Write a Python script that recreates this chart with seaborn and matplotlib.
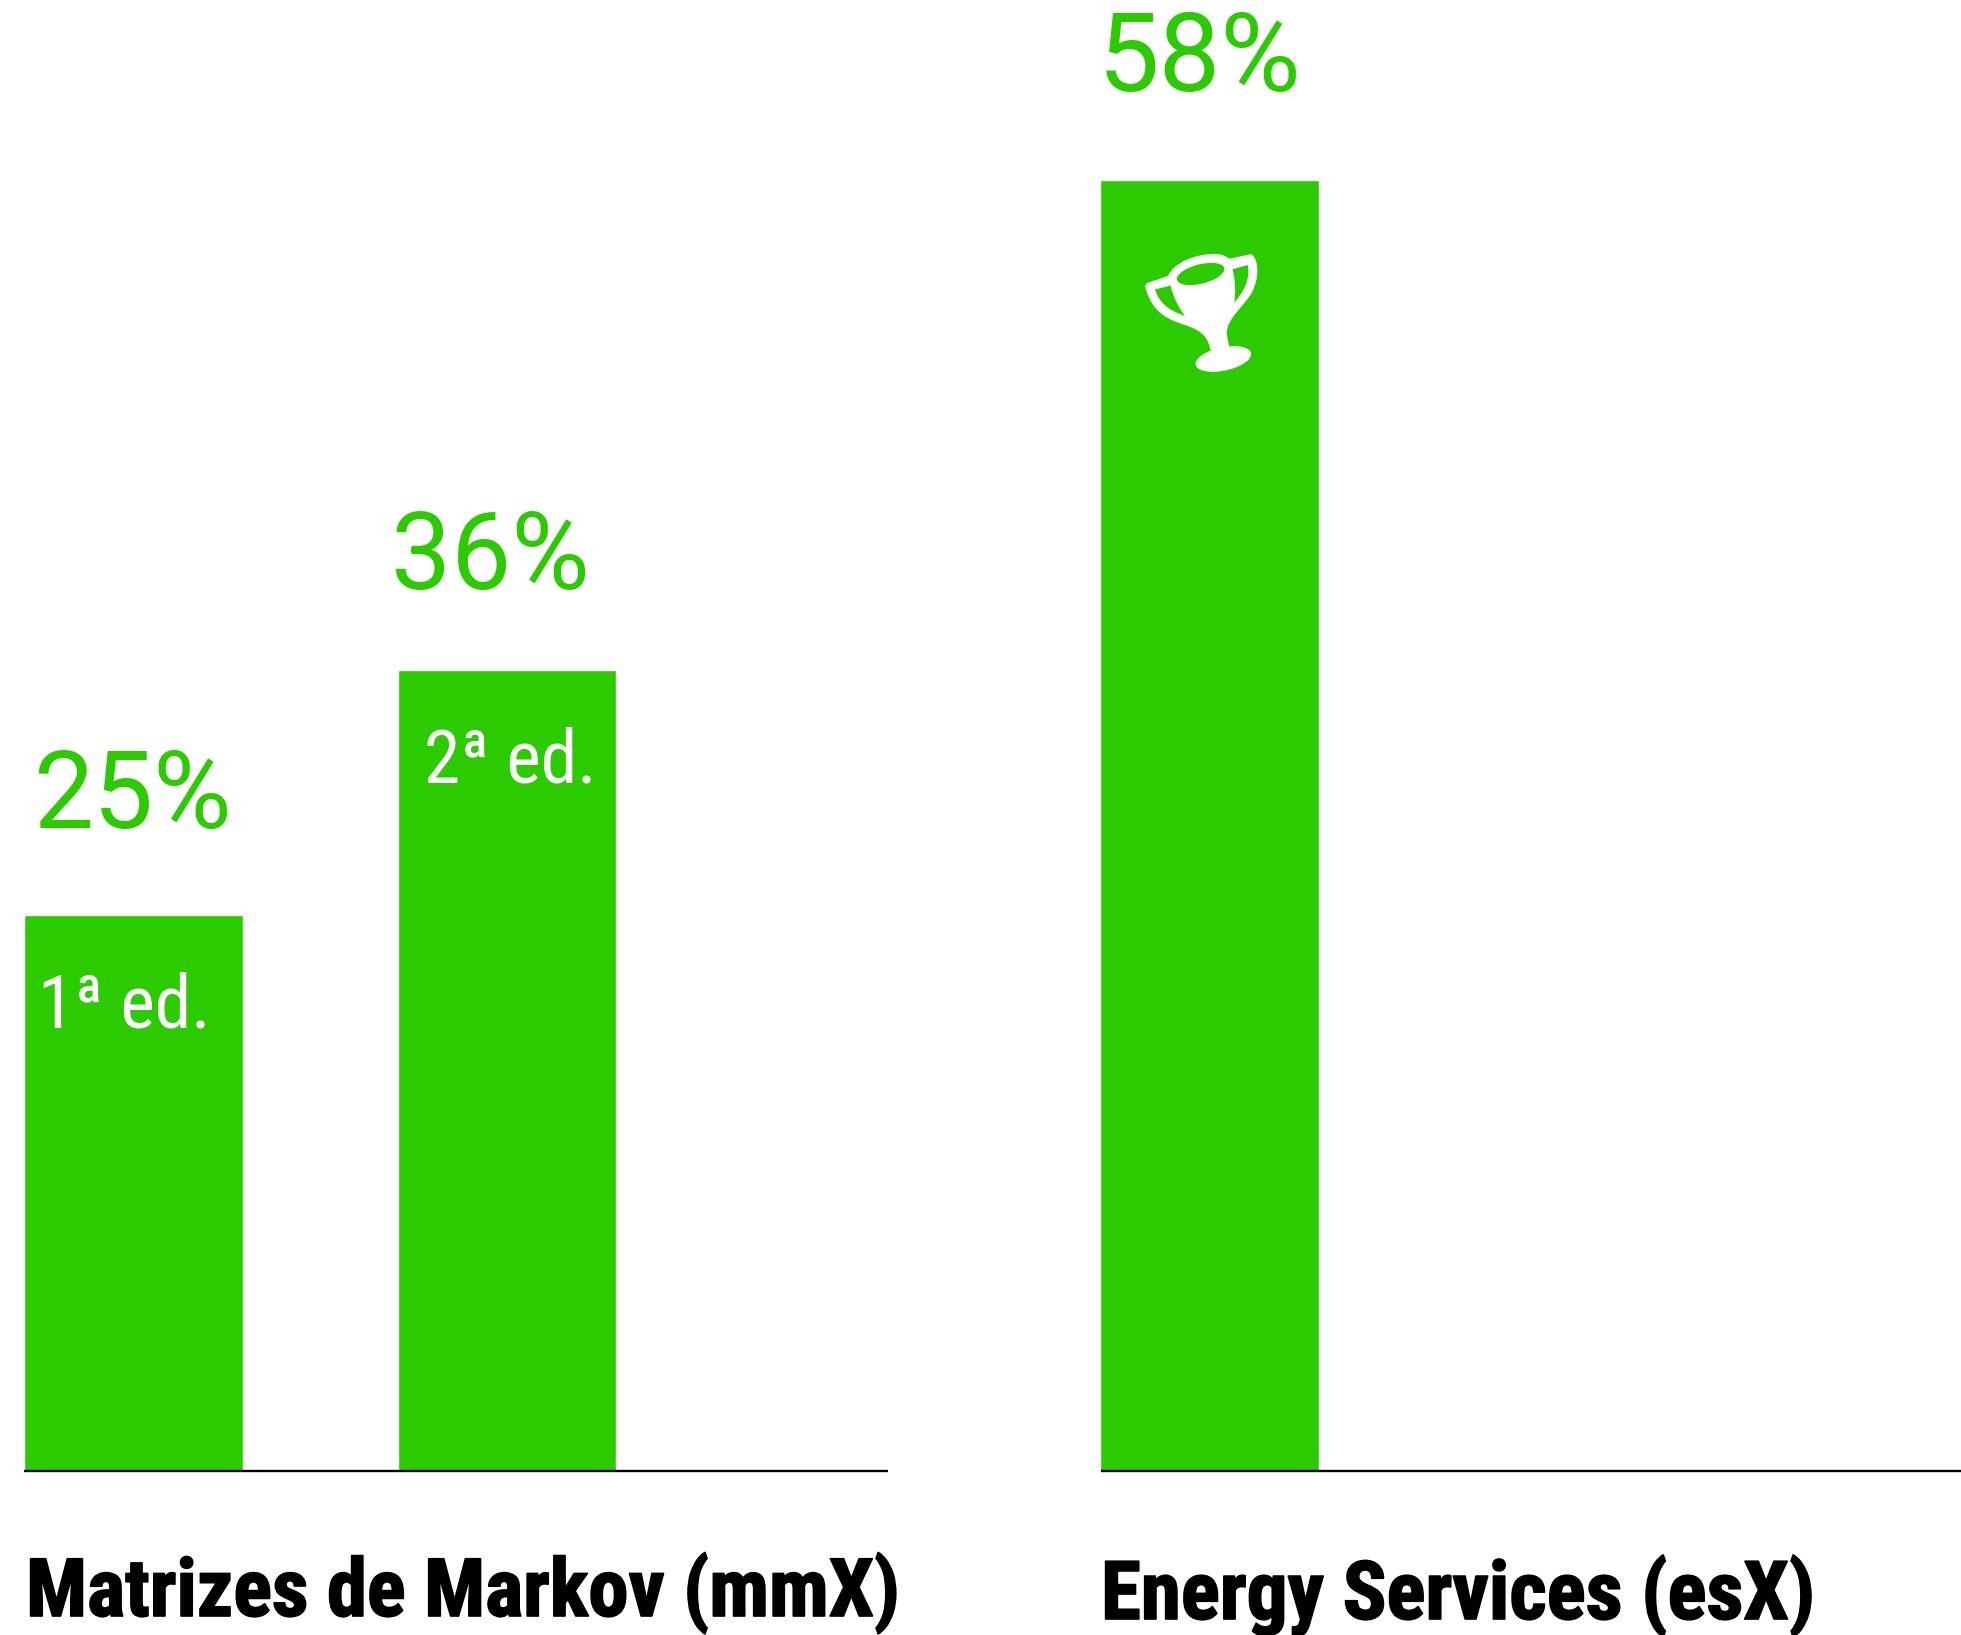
import matplotlib
matplotlib.use("Agg")
from matplotlib import pyplot as plt
from matplotlib.patches import PathPatch, Ellipse
from matplotlib.path import Path
from matplotlib import patheffects as pe
from matplotlib.transforms import Affine2D
import pandas as pd
import seaborn as sns

# values
left_eds = ["1ª ed.", "2ª ed."]
left_vals = [25, 36]
right_eds = ["3ª ed."]
right_vals = [58]
left_title = "Matrizes de Markov (mmX)"
right_title = "Energy Services (esX)"

GREEN = "#2ccb00"
W, H = 1961, 1635

sns.set_theme(style="white")
plt.rcParams["font.family"] = ["Roboto Condensed", "DejaVu Sans"]
plt.rcParams["axes.facecolor"] = "white"

fig = plt.figure(figsize=(W / 100, H / 100), dpi=100, facecolor="white")


def make_ax(x0, x1):
    base = 1471
    return fig.add_axes([x0 / W, 1 - base / H, (x1 - x0) / W, base / H])


def draw_bars(ax, eds, vals):
    df = pd.DataFrame({"ed": eds, "val": vals})
    sns.barplot(data=df, x="ed", y="val", color=GREEN, saturation=1, width=218 / 373, ax=ax)
    ax.set_ylim(0, 1471 / 22.25)
    ax.set_xlabel("")
    ax.set_ylabel("")
    ax.set_xticks([])
    ax.set_yticks([])
    sns.despine(ax=ax, left=True)
    ax.spines["bottom"].set_color("black")
    ax.spines["bottom"].set_linewidth(1.7)
    ax.spines["bottom"].set_capstyle("butt")
    ax.patch.set_alpha(0)


ax1 = make_ax(24.5, 888)
draw_bars(ax1, left_eds, left_vals)
ax1.set_xlim(-0.2922, 2.02)

ax2 = make_ax(1100.5, 1961)
draw_bars(ax2, right_eds, right_vals)
ax2.set_xlim(-0.2922, 2.013)

half = 109 / 373
# percent labels, offset from each bar's top left corner
pct_offsets = [(9, 87), (-7, 81)]
for i, v in enumerate(left_vals):
    ax1.annotate(f"{v}%", xy=(i - half, v), xytext=pct_offsets[i], textcoords="offset pixels",
                 color=GREEN, fontsize=77, family="Roboto", ha="left", va="baseline")
ax2.annotate(f"{right_vals[0]}%", xy=(-half, right_vals[0]), xytext=(-3, 90), textcoords="offset pixels",
             color=GREEN, fontsize=79, family="Roboto", ha="left", va="baseline")

# edition labels inside the bars
ed_offsets = [(14, -113), (26, -112)]
for i, v in enumerate(left_vals):
    ax1.annotate(left_eds[i], xy=(i - half, v), xytext=ed_offsets[i], textcoords="offset pixels",
                 color="white", fontsize=53, ha="left", va="baseline")

bold = [pe.withStroke(linewidth=1.2, foreground="black")]
fig.text(26 / W, 1 - 1616 / H, left_title, fontsize=58, fontweight="bold", color="black",
         ha="left", va="baseline", path_effects=bold)
fig.text(1101 / W, 1 - 1619 / H, right_title, fontsize=58.5, fontweight="bold", color="black",
         ha="left", va="baseline", path_effects=bold)

# trophy icon, traced in a 690 box placed over the third bar
icon = Affine2D().scale(1 / 3).translate(1100, 170).scale(1 / W, -1 / H).translate(0, 1) + fig.transFigure
C = Path.CURVE4
L = Path.LINETO
outer = [
    ((140, 345), Path.MOVETO), ((208, 322), L),
    ((225, 280), C), ((290, 257), C), ((345, 257), C),
    ((365, 257), C), ((378, 264), C), ((386, 272), C),
    ((452, 258), L),
    ((470, 270), C), ((475, 325), C), ((448, 370), C),
    ((423, 410), C), ((375, 445), C), ((375, 490), C),
    ((378, 510), C), ((380, 520), C), ((384, 535), C),
    ((338, 545), L),
    ((330, 500), C), ((310, 480), C), ((270, 465), C),
    ((210, 445), C), ((160, 430), C), ((140, 345), C),
]
left_hole = [
    ((165, 358), Path.MOVETO), ((212, 347), L),
    ((220, 385), C), ((238, 415), C), ((255, 438), C),
    ((205, 420), C), ((178, 400), C), ((165, 358), C),
]
right_hole = [
    ((398, 298), Path.MOVETO), ((443, 285), L),
    ((452, 330), C), ((430, 365), C), ((403, 398), C),
    ((408, 360), C), ((405, 330), C), ((398, 298), C),
]


def add_shape(pts, color, edge="none", lw=0):
    verts = [p[0] for p in pts]
    codes = [p[1] for p in pts]
    fig.add_artist(PathPatch(Path(verts, codes), facecolor=color, edgecolor=edge, linewidth=lw,
                             joinstyle="round", transform=icon))


add_shape(outer, "white", "white", 2.5)
add_shape(left_hole, GREEN)
add_shape(right_hole, GREEN)
fig.add_artist(Ellipse((370, 567), 170, 70, angle=-12, facecolor="white", edgecolor="none", transform=icon))
fig.add_artist(Ellipse((302, 312), 146, 58, angle=-14, facecolor=GREEN, edgecolor="none", transform=icon))

fig.savefig("out.png", dpi=100, facecolor="white")
